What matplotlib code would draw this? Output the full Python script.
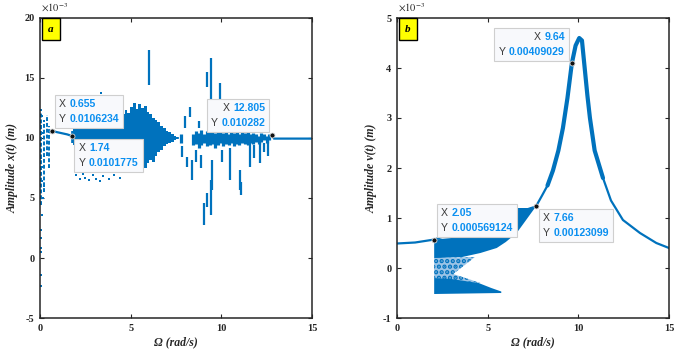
import matplotlib
matplotlib.use("Agg")
import numpy as np
import matplotlib.pyplot as plt
from matplotlib.offsetbox import TextArea, HPacker, VPacker, AnnotationBbox

plt.rcParams['mathtext.fontset'] = 'stix'
plt.rcParams['hatch.linewidth'] = 2.2

BLUE = '#0072BD'
TIP_BLUE = '#0A8FF0'
DARK = '#262626'

# ---------------- panel a : amplitude x(t), values in 1e-3 m ----------------
# scattered start-up points at very low frequency
a_edge_x = [0.05, 0.10, 0.05, 0.15, 0.08, 0.20, 0.05, 0.12, 0.05, 0.10, 0.20,
            0.05, 0.15, 0.05, 0.10, 0.05, 0.08, 0.05, 0.05, 0.05, 0.05]
a_edge_y = [12.3, 11.8, 11.0, 10.4, 9.5, 9.0, 8.3, 7.6, 7.0, 6.4, 6.0,
            5.5, 5.0, 4.6, 3.6, 2.3, 1.7, 0.8, 0.5, -1.4, -2.3]
a_col_x = [0.06, 0.22, 0.38, 0.50]
a_col_lo = [4.4, 5.5, 8.5, 7.5]
a_col_hi = [12.2, 11.5, 11.9, 11.0]

# smooth branch between the first two data tips
a_line_x = [0.55, 0.655, 0.9, 1.2, 1.5, 1.74]
a_line_y = [10.5, 10.62, 10.5, 10.4, 10.3, 10.18]

# dense band after 1.74 rad/s
band_x = [1.74, 1.9, 2.05, 2.2, 2.35, 2.5, 2.65, 2.8, 2.95, 3.1, 3.25, 3.4, 3.55,
          3.7, 3.85, 4.0, 4.15, 4.3, 4.45, 4.6, 4.75, 4.9, 5.05, 5.2, 5.35, 5.5,
          5.65, 5.8, 5.95, 6.1, 6.25, 6.4, 6.55, 6.7, 6.85, 7.0, 7.15, 7.3, 7.45, 7.6]
band_lo = [9.6, 9.4, 9.3, 9.1, 9.2, 9.0, 9.1, 8.9, 9.0, 8.8, 9.0, 8.7, 8.9,
           8.6, 8.8, 8.5, 8.7, 8.4, 8.6, 8.3, 8.2, 8.0, 8.1, 7.8, 7.9, 7.6,
           7.8, 7.5, 7.9, 8.2, 8.0, 8.5, 8.8, 9.0, 9.3, 9.5, 9.6, 9.7, 9.8, 9.9]
band_hi = [10.6, 10.9, 11.2, 11.0, 11.3, 11.2, 11.5, 11.3, 11.6, 11.4, 11.8, 11.5, 11.9,
           11.6, 12.0, 11.7, 12.1, 11.8, 12.4, 12.0, 12.3, 12.1, 12.6, 12.9, 12.4, 12.8,
           12.5, 12.7, 12.2, 12.0, 11.7, 11.5, 11.3, 11.0, 10.8, 10.6, 10.5, 10.3, 10.2, 10.1]
a_dots_x = [2.0, 2.2, 2.35, 2.5, 2.7, 2.9, 3.1, 3.3, 3.5, 3.8, 4.1, 4.4, 3.36]
a_dots_y = [6.9, 6.6, 7.0, 6.7, 6.5, 6.9, 6.6, 6.4, 6.8, 6.6, 6.9, 6.7, 13.75]

# noisy cluster around 10e-3 between 8 and 12.8 rad/s
clus_x = [7.8, 8.45, 8.6, 8.75, 8.9, 9.05, 9.2, 9.35, 9.5, 9.65, 9.8, 9.95,
          10.1, 10.25, 10.4, 10.55, 10.7, 10.85, 11.0, 11.15, 11.3, 11.45, 11.6,
          11.75, 11.9, 12.05, 12.2, 12.35, 12.5, 12.65]
clus_lo = [9.6, 9.4, 9.5, 9.2, 9.4, 9.6, 9.3, 9.4, 9.5, 9.2, 9.4, 9.6,
           9.3, 9.5, 9.4, 9.6, 9.3, 9.5, 9.4, 9.6, 9.5, 9.4, 9.6,
           9.5, 9.7, 9.5, 9.7, 9.8, 9.6, 9.8]
clus_hi = [10.3, 10.3, 10.6, 10.4, 10.7, 10.3, 10.6, 10.5, 10.8, 10.4, 10.6, 10.5,
           10.4, 10.7, 10.3, 10.5, 10.4, 10.6, 10.3, 10.5, 10.4, 10.6, 10.3,
           10.4, 10.3, 10.2, 10.4, 10.3, 10.2, 10.3]
# isolated vertical dashes
out_x = [6.01, 8.27, 8.0, 7.85, 8.1, 8.38, 8.6, 9.49, 9.9, 9.21, 9.45, 10.5,
         11.03, 11.58, 12.13, 12.57, 9.04, 9.21, 9.43, 11.08, 8.9, 10.2, 10.9,
         11.8, 12.35, 10.05, 8.75]
out_lo = [14.4, 11.75, 10.8, 8.4, 7.6, 6.5, 8.0, 5.7, 12.6, 14.25, 13.2, 6.5,
          5.7, 7.6, 7.9, 8.5, 2.75, 4.25, 3.6, 5.25, 7.5, 11.0, 11.2,
          8.3, 8.8, 8.0, 10.8]
out_hi = [17.3, 12.6, 11.8, 9.3, 8.4, 8.2, 9.0, 8.2, 14.6, 15.5, 16.7, 9.2,
          7.3, 9.8, 9.8, 9.8, 4.6, 5.4, 6.5, 6.3, 8.6, 11.8, 12.0,
          9.4, 9.6, 9.0, 11.4]
# flat branch after the last data tip
a_tail_x = [12.805, 12.9, 15.0]
a_tail_y = [10.28, 9.95, 9.95]

# ---------------- panel b : amplitude v(t), values in 1e-3 m ----------------
b_curve_x = [0.0, 1.0, 2.05, 7.66, 8.0, 8.3, 8.6, 8.9, 9.15, 9.4, 9.64, 9.85,
             10.05, 10.2, 10.35, 10.5, 10.64, 10.9, 11.36, 11.8, 12.46, 13.4, 14.3, 15.0]
b_curve_y = [0.49, 0.51, 0.569, 1.23, 1.45, 1.65, 1.95, 2.35, 2.8, 3.4, 4.09, 4.45,
             4.6, 4.55, 4.0, 3.45, 3.0, 2.35, 1.8, 1.35, 0.96, 0.7, 0.5, 0.4]
# upper dense part of the chaotic cloud (outline)
b_up_x = [2.05, 3.0, 4.0, 5.0, 5.6, 6.0, 6.6, 7.3, 7.66,
          7.2, 6.6, 6.0, 5.5, 4.6, 3.6, 2.4, 2.05]
b_up_y = [0.569, 0.6, 0.66, 0.78, 0.95, 1.12, 1.2, 1.2, 1.23,
          1.0, 0.7, 0.52, 0.4, 0.3, 0.22, 0.2, 0.2]
# sparse middle part
b_mid_x = [2.05, 4.3, 3.1, 4.6, 2.05]
b_mid_y = [0.2, 0.22, -0.12, -0.3, -0.2]
# lower dense strip
b_low_x = [2.05, 3.0, 4.5, 5.2, 5.75, 5.75, 2.05]
b_low_y = [-0.2, -0.22, -0.3, -0.4, -0.47, -0.5, -0.52]

fig = plt.figure(figsize=(6.87, 3.59), dpi=100)
ax_a = fig.add_axes([40 / 687, 41 / 359, 272 / 687, 300 / 359])
ax_b = fig.add_axes([397 / 687, 41 / 359, 272 / 687, 300 / 359])

TIP_PAD = 0.45  # fraction of 10 pt


def datatip(ax, x, y, xs, ys, align):
    ax.plot(x, y, 'o', ms=3.6, mfc='#111111', mec='#d8d8d8', mew=0.6, zorder=7)
    rows = []
    for lab, val in (('X', xs), ('Y', ys)):
        rows.append(HPacker(children=[
            TextArea(lab, textprops=dict(color='#3a3a3a', fontsize=7.6, family='Liberation Sans')),
            TextArea(val, textprops=dict(color=TIP_BLUE, fontsize=7.6, weight='bold',
                                         family='Liberation Sans'))],
            sep=2.5, pad=0, align='baseline'))
    box = VPacker(children=rows, sep=3.5, pad=0, align='right' if align[0] == 1 else 'left')
    # shift so that the frame corner (not the text) touches the marker
    off = TIP_PAD * 10 + 0.5
    dx = off if align[0] == 0 else -off
    dy = off if align[1] == 0 else -off
    ab = AnnotationBbox(box, (x, y), xybox=(dx, dy), xycoords='data', boxcoords='offset points',
                        box_alignment=align, pad=TIP_PAD, frameon=True,
                        bboxprops=dict(boxstyle='square', fc='#F8F9FC', ec='#CFCFCF', lw=0.8),
                        zorder=6)
    ax.add_artist(ab)


def style(ax, ylim, yticks, ylabel, tag):
    ax.set_xlim(0, 15)
    ax.set_ylim(*ylim)
    ax.set_xticks([0, 5, 10, 15])
    ax.set_yticks(yticks)
    ax.set_yticklabels([str(t) for t in yticks])
    ax.tick_params(direction='in', top=True, right=True, length=3, width=0.8,
                   colors=DARK, labelsize=7.5, pad=4)
    for lab in ax.get_xticklabels() + ax.get_yticklabels():
        lab.set_fontfamily('Liberation Serif')
        lab.set_fontweight('bold')
    for sp in ax.spines.values():
        sp.set_color(DARK)
        sp.set_linewidth(1.1)
    ax.set_xlabel('Ω (rad/s)', family='Liberation Serif', style='italic',
                  weight='bold', fontsize=8.5, color=DARK, labelpad=3)
    ax.set_ylabel(ylabel, family='Liberation Serif', style='italic',
                  weight='bold', fontsize=8.5, color=DARK, labelpad=4)
    ax.text(0.005, 1.012, r'$\times10^{-3}$', transform=ax.transAxes, fontsize=7.5,
            color=DARK, va='bottom', ha='left')
    ax.text(0.039, 0.963, tag, transform=ax.transAxes, ha='center', va='center',
            family='Liberation Serif', style='italic', weight='bold', fontsize=8,
            bbox=dict(boxstyle='square,pad=0.55', fc='#FFFF00', ec='black', lw=1.0),
            zorder=8)


# ---- draw panel a ----
ax = ax_a
ax.plot(a_edge_x, a_edge_y, 's', ms=1.8, color=BLUE, mew=0)
ax.vlines(a_col_x, a_col_lo, a_col_hi, color=BLUE, lw=1.4, linestyles=(0, (2, 1)))
ax.plot(a_line_x, a_line_y, '-', color=BLUE, lw=1.6)
ax.fill_between(band_x, band_lo, band_hi, step='mid', color=BLUE, lw=0)
ax.vlines(band_x, band_lo, band_hi, color=BLUE, lw=1.2)
ax.plot(a_dots_x, a_dots_y, 's', ms=2.0, color=BLUE, mew=0)
ax.vlines(clus_x, clus_lo, clus_hi, color=BLUE, lw=2.3)
ax.vlines(out_x, out_lo, out_hi, color=BLUE, lw=1.6)
ax.plot(a_tail_x, a_tail_y, '-', color=BLUE, lw=1.6)
style(ax, (-5, 20), [-5, 0, 5, 10, 15, 20], 'Amplitude x(t) (m)', 'a')
datatip(ax, 0.655, 10.6234, '0.655', '0.0106234', (0, 0))
datatip(ax, 1.74, 10.1775, '1.74', '0.0101775', (0, 1))
datatip(ax, 12.805, 10.282, '12.805', '0.010282', (1, 0))

# ---- draw panel b ----
ax = ax_b
ax.fill(b_up_x, b_up_y, color=BLUE, lw=0)
ax.fill(b_mid_x, b_mid_y, facecolor='#9CC4E6', edgecolor=BLUE, hatch='...', lw=0)
ax.fill(b_low_x, b_low_y, color=BLUE, lw=0)
bx = np.array(b_curve_x)
by = np.array(b_curve_y)
ax.plot(bx, by, '-', color=BLUE, lw=1.6)
peak = (bx >= 8.3) & (bx <= 11.36)
ax.plot(bx[peak], by[peak], '-', color=BLUE, lw=3.0, solid_capstyle='round')
style(ax, (-1, 5), [-1, 0, 1, 2, 3, 4, 5], 'Amplitude v(t) (m)', 'b')
datatip(ax, 9.64, 4.09029, '9.64', '0.00409029', (1, 0))
datatip(ax, 2.05, 0.569124, '2.05', '0.000569124', (0, 0))
datatip(ax, 7.66, 1.23099, '7.66', '0.00123099', (0, 1))

fig.savefig('out.png', dpi=100)
